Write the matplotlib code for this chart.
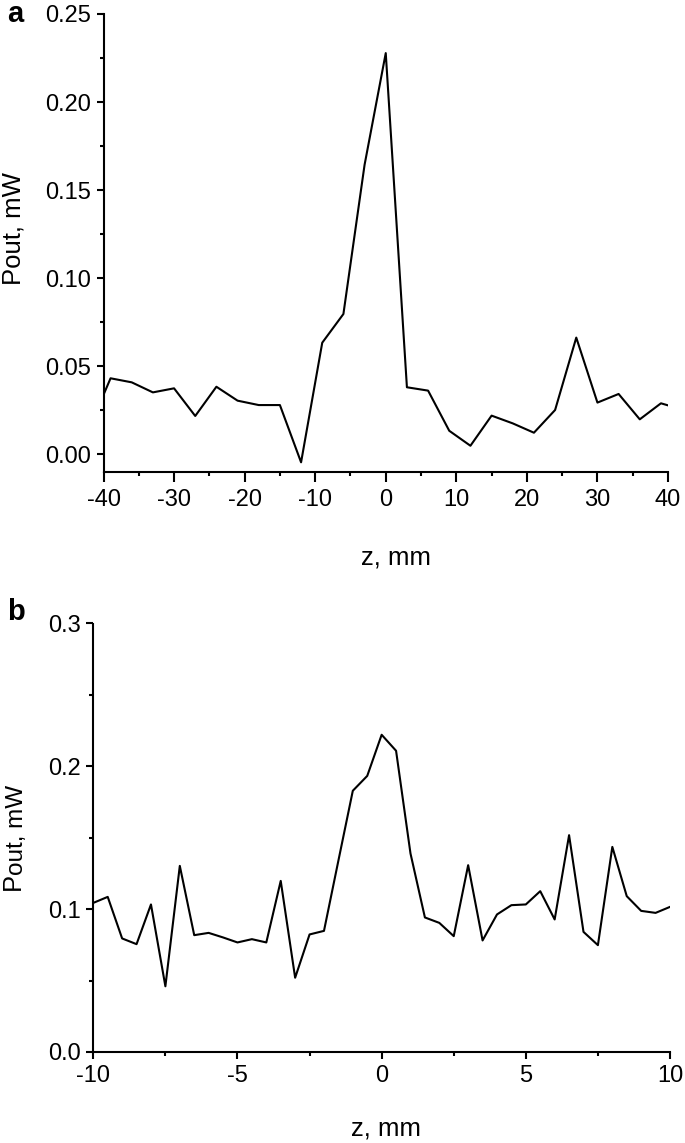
import matplotlib
matplotlib.use("Agg")
import matplotlib.pyplot as plt
from matplotlib.ticker import MultipleLocator, FormatStrFormatter

plt.rcParams['font.family'] = ['Liberation Sans', 'DejaVu Sans']
plt.rcParams['axes.unicode_minus'] = False

# Panel a data (z in mm, Pout in mW)
z_a = [-42, -39, -36, -33, -30, -27, -24, -21, -18, -15, -12, -9, -6, -3, 0,
       3, 6, 9, 12, 15, 18, 21, 24, 27, 30, 33, 36, 39, 42]
p_a = [0.015, 0.0432, 0.0409, 0.0352, 0.0375, 0.0218, 0.0384, 0.0305, 0.0280,
       0.0280, -0.0045, 0.0634, 0.0797, 0.1644, 0.2278,
       0.0381, 0.0362, 0.0134, 0.0049, 0.0220, 0.0176, 0.0123, 0.0252, 0.0663,
       0.0294, 0.0343, 0.0199, 0.0290, 0.0255]

# Panel b data
z_b = [-10, -9.5, -9, -8.5, -8, -7.5, -7, -6.5, -6, -5.5, -5, -4.5, -4, -3.5,
       -3, -2.5, -2, -1.5, -1, -0.5, 0, 0.5, 1, 1.5, 2, 2.5, 3, 3.5, 4, 4.5,
       5, 5.5, 6, 6.5, 7, 7.5, 8, 8.5, 9, 9.5, 10]
p_b = [0.1044, 0.1086, 0.0795, 0.0755, 0.1033, 0.046, 0.1303, 0.0818, 0.0834,
       0.0802, 0.0767, 0.0790, 0.0767, 0.1198, 0.052, 0.0823, 0.0848, 0.134,
       0.1829, 0.1933, 0.2221, 0.2109, 0.1390, 0.0942, 0.0904, 0.0811, 0.1308,
       0.0781, 0.0963, 0.1028, 0.1033, 0.1126, 0.0928, 0.1518, 0.0841, 0.0748,
       0.1436, 0.1091, 0.0988, 0.0974, 0.1016]

W, H = 685, 1143
fig = plt.figure(figsize=(W / 100, H / 100), dpi=100)

def px_axes(left, top, right, bottom):
    return fig.add_axes([left / W, 1 - bottom / H, (right - left) / W, (bottom - top) / H])

ax_a = px_axes(103.5, 14, 668, 472)
ax_b = px_axes(93.3, 623.5, 670, 1052)

FS = 17
LFS = 18.5
for ax in (ax_a, ax_b):
    ax.spines['top'].set_visible(False)
    ax.spines['right'].set_visible(False)
    for s in ('left', 'bottom'):
        ax.spines[s].set_linewidth(1.5)
    ax.tick_params(which='major', direction='out', length=5, width=1.5, labelsize=FS, pad=4)
    ax.tick_params(which='minor', direction='out', length=3, width=1.5)
ax_a.tick_params(axis='x', which='major', length=7, pad=5)

ax_a.plot(z_a, p_a, color='black', lw=1.5)
ax_a.set_xlim(-40, 40)
ax_a.set_ylim(-0.01, 0.25)
ax_a.xaxis.set_major_locator(MultipleLocator(10))
ax_a.xaxis.set_minor_locator(MultipleLocator(5))
ax_a.yaxis.set_major_locator(MultipleLocator(0.05))
ax_a.yaxis.set_minor_locator(MultipleLocator(0.025))
ax_a.yaxis.set_major_formatter(FormatStrFormatter('%.2f'))
ax_a.xaxis.set_major_formatter(FormatStrFormatter('%d'))
ax_a.set_xlabel('z, mm', fontsize=LFS, va='baseline')
ax_a.xaxis.set_label_coords(0.518, -0.201)
ax_a.set_ylabel('Pout, mW', fontsize=LFS, va='center', ha='center')
ax_a.yaxis.set_label_coords(-0.1594, 0.532)

ax_b.plot(z_b, p_b, color='black', lw=1.5)
ax_b.set_xlim(-10, 10)
ax_b.set_ylim(0, 0.3)
ax_b.xaxis.set_major_locator(MultipleLocator(5))
ax_b.xaxis.set_minor_locator(MultipleLocator(2.5))
ax_b.yaxis.set_major_locator(MultipleLocator(0.1))
ax_b.yaxis.set_minor_locator(MultipleLocator(0.05))
ax_b.yaxis.set_major_formatter(FormatStrFormatter('%.1f'))
ax_b.xaxis.set_major_formatter(FormatStrFormatter('%d'))
ax_b.set_xlabel('z, mm', fontsize=LFS, va='baseline')
ax_b.xaxis.set_label_coords(0.508, -0.196)

# y label of panel b: "P" with subscript "out", nearly full size
fig.text(19.5 / W, 1 - 890 / H, 'P', fontsize=LFS, rotation=90,
         rotation_mode='anchor', ha='left', va='baseline')
fig.text(22.5 / W, 1 - 875 / H, 'out, mW', fontsize=LFS - 1, rotation=90,
         rotation_mode='anchor', ha='left', va='baseline')

fig.text(15 / W, 1 - 14 / H, 'a', fontsize=21, fontweight='bold', ha='center', va='center')
fig.text(16 / W, 1 - 612 / H, 'b', fontsize=21, fontweight='bold', ha='center', va='center')

fig.savefig('out.png', dpi=100)
